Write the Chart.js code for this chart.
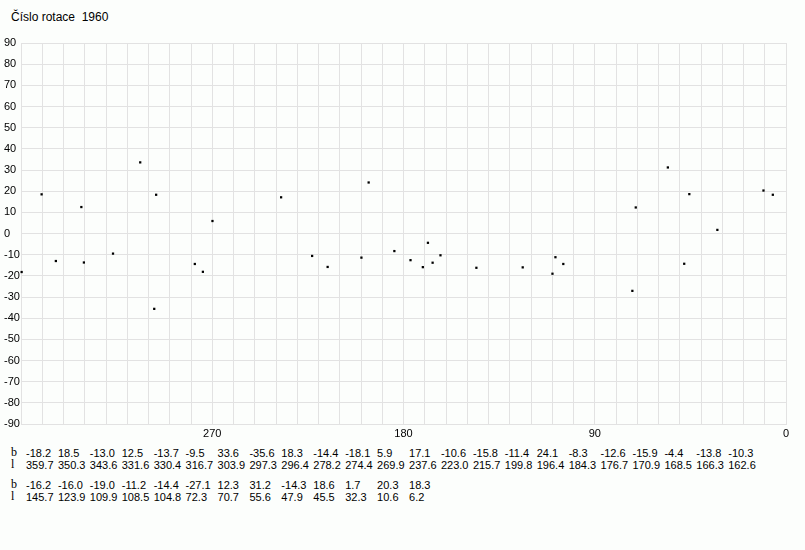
<!DOCTYPE html>
<html>
<head>
<meta charset="utf-8">
<script src="https://cdn.jsdelivr.net/npm/chart.js@4/dist/chart.umd.min.js"></script>
<style>
  html, body { margin:0; padding:0; background:#fcfefc; }
  #wrap { position:relative; width:805px; height:550px; overflow:hidden; background:#fcfefc; font-family:"Liberation Sans", Arial, sans-serif; color:#000; }
  #title { position:absolute; left:11px; top:11px; font-size:12px; line-height:12px; white-space:pre; }
  canvas { position:absolute; left:0; top:0; }
  .t { position:absolute; font-size:11px; line-height:12px; white-space:pre; }
  .lab { font-family:"Liberation Serif", "Times New Roman", serif; font-size:12px; }
</style>
</head>
<body>
<div id="wrap">
  <div id="title">Číslo rotace  1960</div>
  <canvas id="c" width="805" height="445"></canvas>
</div>
<script>
// Data (galactic longitude l, latitude b)
const lonRow1 = [359.7, 350.3, 343.6, 331.6, 330.4, 316.7, 303.9, 297.3, 296.4, 278.2, 274.4, 269.9, 237.6, 223.0, 215.7, 199.8, 196.4, 184.3, 176.7, 170.9, 168.5, 166.3, 162.6];
const latRow1 = [-18.2, 18.5, -13.0, 12.5, -13.7, -9.5, 33.6, -35.6, 18.3, -14.4, -18.1, 5.9, 17.1, -10.6, -15.8, -11.4, 24.1, -8.3, -12.6, -15.9, -4.4, -13.8, -10.3];
const lonRow2 = [145.7, 123.9, 109.9, 108.5, 104.8, 72.3, 70.7, 55.6, 47.9, 45.5, 32.3, 10.6, 6.2];
const latRow2 = [-16.2, -16.0, -19.0, -11.2, -14.4, -27.1, 12.3, 31.2, -14.3, 18.6, 1.7, 20.3, 18.3];
const xTickLabels = [270, 180, 90, 0];
const rowLabels = ['b', 'l'];

const allLon = lonRow1.concat(lonRow2);
const allLat = latRow1.concat(latRow2);
const points = allLon.map((l, i) => ({ x: l, y: allLat[i] }));

const GRID = '#e2e2e2';
const FONT = { family: '"Liberation Sans", Arial, sans-serif', size: 11 };

new Chart(document.getElementById('c'), {
  type: 'scatter',
  data: { datasets: [{ data: points, pointStyle: 'rect', pointRadius: 1.6, pointBorderWidth: 0, backgroundColor: '#000', borderColor: '#000', clip: false }] },
  options: {
    responsive: false, animation: false, devicePixelRatio: 1,
    layout: { padding: { top: 43, left: 4, right: 19, bottom: 0 } },
    plugins: { legend: { display: false }, tooltip: { enabled: false }, title: { display: false } },
    scales: {
      x: {
        type: 'linear', reverse: true, min: 0, max: 360,
        border: { color: GRID, width: 1 },
        grid: { color: GRID, lineWidth: 1, drawTicks: false },
        ticks: { stepSize: 10, autoSkip: false, maxRotation: 0, minRotation: 0, padding: 3, color: '#000', font: FONT,
          callback: (v) => xTickLabels.includes(v) ? String(v) : '' },
        afterFit: (s) => { s.height = 21; }
      },
      y: {
        min: -90, max: 90,
        border: { color: GRID, width: 1 },
        grid: { color: GRID, lineWidth: 1, drawTicks: false },
        ticks: { stepSize: 10, crossAlign: 'far', color: '#000', font: FONT, padding: 0 },
        afterFit: (s) => { s.width = 17; }
      }
    }
  }
});

// Data table below the chart
const wrap = document.getElementById('wrap');
function addText(txt, x, y, cls) {
  const d = document.createElement('div');
  d.className = 't' + (cls ? ' ' + cls : '');
  d.textContent = txt;
  d.style.left = x + 'px';
  d.style.top = y + 'px';
  wrap.appendChild(d);
}
const rows = [
  { top: 447, b: latRow1, l: lonRow1 },
  { top: 479, b: latRow2, l: lonRow2 }
];
rows.forEach(r => {
  addText(rowLabels[0], 11, r.top - 1, 'lab');
  addText(rowLabels[1], 11, r.top + 11, 'lab');
  r.b.forEach((v, i) => addText(v.toFixed(1), 26 + 31.92 * i, r.top, ''));
  r.l.forEach((v, i) => addText(v.toFixed(1), 26 + 31.92 * i, r.top + 12, ''));
});
</script>
</body>
</html>
